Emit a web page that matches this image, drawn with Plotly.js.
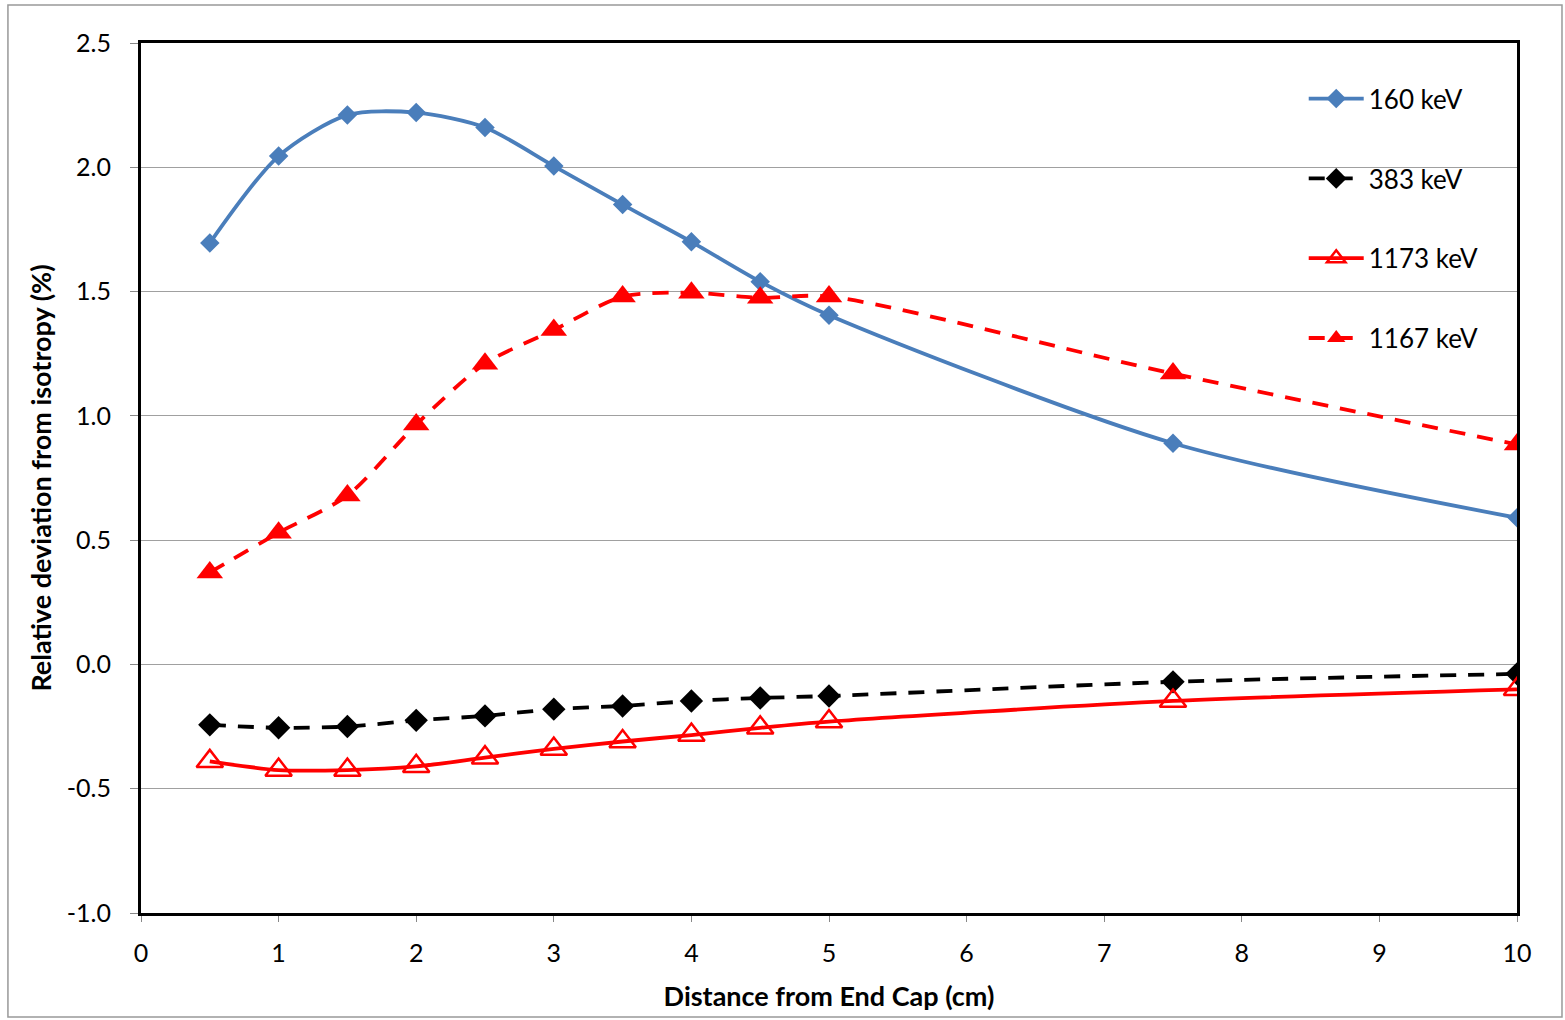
<!DOCTYPE html>
<html><head><meta charset="utf-8">
<script src="https://cdn.plot.ly/plotly-3.0.1.min.js"></script>
<style>html,body{margin:0;padding:0;background:#fff;}#chart{width:1565px;height:1020px;}</style>
</head><body><div id="chart"></div>
<script>
const distance = [0.5, 1, 1.5, 2, 2.5, 3, 3.5, 4, 4.5, 5, 7.5, 10];
const kev160  = [1.695, 2.045, 2.21, 2.22, 2.16, 2.005, 1.85, 1.70, 1.54, 1.405, 0.89, 0.59];
const kev383  = [-0.243, -0.255, -0.25, -0.225, -0.207, -0.18, -0.167, -0.147, -0.135, -0.127, -0.07, -0.038];
const kev1173 = [-0.39, -0.425, -0.425, -0.41, -0.375, -0.34, -0.31, -0.284, -0.255, -0.23, -0.147, -0.10];
const kev1167 = [0.37, 0.53, 0.68, 0.965, 1.21, 1.345, 1.48, 1.495, 1.475, 1.48, 1.17, 0.885];
const seriesNames = ['160 keV', '383 keV', '1173 keV', '1167 keV'];
const yTicks = [-1.0, -0.5, 0.0, 0.5, 1.0, 1.5, 2.0, 2.5];
const xTicks = [0,1,2,3,4,5,6,7,8,9,10];

const font = 'Lato, "Open Sans", sans-serif';
const traces = [
  {x: distance, y: kev160, name: seriesNames[0], legendgroup:'a', mode:'lines+markers',
   line:{color:'#4A7EBB', width:3.8, shape:'spline', smoothing:0.8},
   marker:{symbol:'diamond', size:15, color:'#4A7EBB'}},
  {x: distance, y: kev383, name: seriesNames[1], legendgroup:'b', mode:'lines+markers',
   line:{color:'#000000', width:3.8, dash:'16px,12px', shape:'spline', smoothing:0.8},
   marker:{symbol:'diamond', size:18, color:'#000000'}},
  {x: distance, y: kev1173, name: seriesNames[2], legendgroup:'c', mode:'lines+markers',
   line:{color:'#FF0000', width:3.8, shape:'spline', smoothing:0.8},
   marker:{symbol:'triangle-up-open', size:23, color:'#FF0000', line:{width:2.5, color:'#FF0000'}}},
  {x: distance, y: kev1167, name: seriesNames[3], legendgroup:'d', mode:'lines+markers',
   line:{color:'#FF0000', width:3.8, dash:'16px,12px', shape:'spline', smoothing:0.8},
   marker:{symbol:'triangle-up', size:23, color:'#FF0000'}}
];

const layout = {
  width:1565, height:1020,
  margin:{l:141, r:48, t:43, b:107},
  paper_bgcolor:'#fff', plot_bgcolor:'#fff',
  font:{family:font, size:24, color:'#000'},
  showlegend:true,
  legend:{x:0.845, y:0.963, xanchor:'left', yanchor:'top', bgcolor:'rgba(0,0,0,0)',
          tracegroupgap:43, font:{family:font, size:26, color:'#000'}, itemwidth:55},
  xaxis:{range:[0,10], tickvals:xTicks, ticktext:xTicks.map(String), showgrid:false, zeroline:false,
         showline:true, linecolor:'#000', linewidth:3, mirror:true,
         ticks:'outside', ticklen:6, tickcolor:'#888', tickfont:{size:25}, ticklabelstandoff:10,
         title:{text:'<b>Distance from End Cap (cm)</b>', font:{size:27}, standoff:22}},
  yaxis:{range:[-1.0,2.5], tickvals:yTicks, ticktext:yTicks.map(v=>v.toFixed(1)), showgrid:true, gridcolor:'#A0A0A0', gridwidth:1.2,
         zeroline:false, showline:true, linecolor:'#000', linewidth:3, mirror:true,
         ticks:'outside', ticklen:8, tickcolor:'#888', tickfont:{size:25}, ticklabelstandoff:14,
         title:{text:'<b>Relative deviation from isotropy (%)</b>', font:{size:27}, standoff:8}},
  shapes:[
    {type:'rect', xref:'paper', yref:'paper', x0:-0.0967, x1:1.0327, y0:-0.1195, y1:1.0437,
     line:{color:'#999', width:1.5}, fillcolor:'rgba(0,0,0,0)', layer:'below'}
  ]
};
Plotly.newPlot('chart', traces, layout, {displayModeBar:false, staticPlot:true});
</script></body></html>
